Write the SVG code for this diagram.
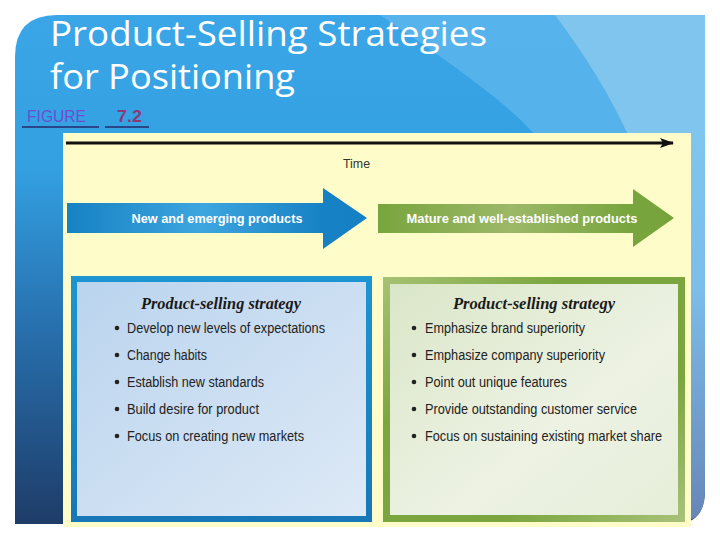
<svg xmlns="http://www.w3.org/2000/svg" width="720" height="540" viewBox="0 0 720 540">
  <defs>
    <style>
      .title { font-family: "Open Sans", "Noto Sans", "DejaVu Sans", sans-serif; font-size: 35px; fill: #ffffff; }
      .arrowtxt { font-family: "Liberation Sans", Arial, sans-serif; font-size: 13px; font-weight: bold; fill: #ffffff; }
      .boxtitle { font-family: "Liberation Serif", "Times New Roman", serif; font-size: 17px; font-weight: bold; font-style: italic; fill: #1a1a1a; }
      .item { font-family: "Liberation Sans", Arial, sans-serif; font-size: 14px; fill: #222222; }
      .bullet { fill: #222222; }
      .shadow { stroke-width: 3; fill: none; }
    </style>
    <linearGradient id="panelGrad" x1="0" y1="0" x2="0" y2="1">
      <stop offset="0" stop-color="#3aa6e7"/>
      <stop offset="0.3" stop-color="#33a0e2"/>
      <stop offset="0.6" stop-color="#2872b0"/>
      <stop offset="1" stop-color="#1e3c68"/>
    </linearGradient>
    <linearGradient id="rightGrad" x1="0" y1="0" x2="0" y2="1">
      <stop offset="0" stop-color="#80c5ee"/>
      <stop offset="0.4" stop-color="#7cbde9"/>
      <stop offset="1" stop-color="#6786b8"/>
    </linearGradient>
    <linearGradient id="blueArrow" x1="0" y1="0" x2="1" y2="0">
      <stop offset="0" stop-color="#1681c4"/>
      <stop offset="0.45" stop-color="#3ea6df"/>
      <stop offset="0.85" stop-color="#1681c4"/>
      <stop offset="1" stop-color="#1580c3"/>
    </linearGradient>
    <linearGradient id="greenArrow" x1="0" y1="0" x2="1" y2="0">
      <stop offset="0" stop-color="#78a53d"/>
      <stop offset="0.45" stop-color="#9cb868"/>
      <stop offset="0.85" stop-color="#78a53d"/>
      <stop offset="1" stop-color="#76a33b"/>
    </linearGradient>
    <linearGradient id="greyLine" x1="0" y1="0" x2="1" y2="0">
      <stop offset="0" stop-color="#9a9a9a"/>
      <stop offset="1" stop-color="#d6d6cc"/>
    </linearGradient>
    <linearGradient id="blueBorder" x1="0" y1="0" x2="0" y2="1">
      <stop offset="0" stop-color="#1d95d1"/>
      <stop offset="1" stop-color="#1877b6"/>
    </linearGradient>
    <linearGradient id="blueFill" x1="0" y1="0" x2="1" y2="1">
      <stop offset="0" stop-color="#bad4ee"/>
      <stop offset="1" stop-color="#dde9f6"/>
    </linearGradient>
    <linearGradient id="greenBorder" x1="0" y1="0" x2="1" y2="1">
      <stop offset="0" stop-color="#a6c274"/>
      <stop offset="0.3" stop-color="#7ba63f"/>
      <stop offset="0.7" stop-color="#7ba63f"/>
      <stop offset="1" stop-color="#a8c27a"/>
    </linearGradient>
    <linearGradient id="greenFill" x1="0" y1="0" x2="1" y2="1">
      <stop offset="0" stop-color="#dae6c8"/>
      <stop offset="0.6" stop-color="#edf2e3"/>
      <stop offset="1" stop-color="#e6eed9"/>
    </linearGradient>
    <marker id="timeHead" viewBox="0 0 14 10" refX="13" refY="5" markerWidth="14" markerHeight="10" markerUnits="userSpaceOnUse" orient="auto">
      <path d="M0,0 L14,5 L0,10 L3,5 Z" fill="#111111"/>
    </marker>
  </defs>

  <rect x="0" y="0" width="720" height="540" fill="#ffffff"/>

  <!-- background panel -->
  <g id="background">
    <path d="M15,57 Q15,15 57,15 H705 V490 Q705,524 675,524 H15 Z" fill="url(#panelGrad)"/>
    <path d="M380,15 C430,50 500,95 535,135 L705,135 V15 Z" fill="#5cb5ec" opacity="0.85"/>
    <path d="M555,15 C585,55 610,95 628,135 L690,330 L705,330 V15 Z" fill="#80c5ee"/>
    <path d="M690,133 H705 V490 Q705,515 690,520 Z" fill="url(#rightGrad)"/>
  </g>

  <g id="title">
    <text class="title" x="50" y="46" textLength="437" lengthAdjust="spacingAndGlyphs">Product-Selling Strategies</text>
    <text class="title" x="50" y="89" textLength="245" lengthAdjust="spacingAndGlyphs">for Positioning</text>
  </g>

  <g id="figure-label">
    <text x="27" y="122" font-family="Liberation Sans, Arial, sans-serif" font-size="16" fill="#6a4fd0" textLength="59" lengthAdjust="spacingAndGlyphs">FIGURE</text>
    <line x1="22" y1="127" x2="99" y2="127" stroke="#26286a" stroke-width="1.3"/>
    <text x="117" y="122" font-family="Liberation Sans, Arial, sans-serif" font-size="16" font-weight="bold" fill="#8b3a78" textLength="25" lengthAdjust="spacingAndGlyphs">7.2</text>
    <line x1="105" y1="127" x2="149" y2="127" stroke="#26286a" stroke-width="1.3"/>
  </g>

  <!-- figure area -->
  <rect id="figure-bg" x="63" y="133" width="628" height="394" fill="#fefdc9"/>

  <g id="connectors">
    <line x1="66" y1="143" x2="673" y2="143" stroke="#111111" stroke-width="3" marker-end="url(#timeHead)"/>
  </g>

  <g id="time-label">
    <text x="343" y="168" font-family="Liberation Sans, Arial, sans-serif" font-size="13" fill="#333333" textLength="27" lengthAdjust="spacingAndGlyphs">Time</text>
  </g>

  <g id="arrow-new">
    <line class="shadow" x1="73" y1="200" x2="330" y2="200" stroke="url(#greyLine)"/>
    <path d="M67,203 H323 V188 L367,218 L323,249 V233 H67 Z" fill="url(#blueArrow)"/>
    <text class="arrowtxt" x="217" y="223" text-anchor="middle" textLength="171" lengthAdjust="spacingAndGlyphs">New and emerging products</text>
    <line class="shadow" x1="78" y1="270" x2="330" y2="270" stroke="url(#greyLine)"/>
  </g>

  <g id="arrow-mature">
    <line class="shadow" x1="385" y1="200" x2="633" y2="200" stroke="url(#greyLine)"/>
    <path d="M378,204 H633 V189 L674,218 L633,247 V233 H378 Z" fill="url(#greenArrow)"/>
    <text class="arrowtxt" x="522" y="223" text-anchor="middle" textLength="231" lengthAdjust="spacingAndGlyphs">Mature and well-established products</text>
    <line class="shadow" x1="392" y1="270" x2="658" y2="270" stroke="url(#greyLine)"/>
  </g>

  <g id="box-new">
    <rect x="71" y="276" width="301" height="246" fill="url(#blueBorder)"/>
    <rect x="77" y="282" width="289" height="234" fill="url(#blueFill)"/>
    <text class="boxtitle" x="221" y="309" text-anchor="middle" textLength="160" lengthAdjust="spacingAndGlyphs">Product-selling strategy</text>
    <circle class="bullet" cx="117" cy="328" r="2.3"/>
    <text class="item" x="127" y="333" textLength="198" lengthAdjust="spacingAndGlyphs">Develop new levels of expectations</text>
    <circle class="bullet" cx="117" cy="355" r="2.3"/>
    <text class="item" x="127" y="360" textLength="80" lengthAdjust="spacingAndGlyphs">Change habits</text>
    <circle class="bullet" cx="117" cy="382" r="2.3"/>
    <text class="item" x="127" y="387" textLength="137" lengthAdjust="spacingAndGlyphs">Establish new standards</text>
    <circle class="bullet" cx="117" cy="409" r="2.3"/>
    <text class="item" x="127" y="414" textLength="132" lengthAdjust="spacingAndGlyphs">Build desire for product</text>
    <circle class="bullet" cx="117" cy="436" r="2.3"/>
    <text class="item" x="127" y="441" textLength="177" lengthAdjust="spacingAndGlyphs">Focus on creating new markets</text>
  </g>

  <g id="box-mature">
    <rect x="383" y="277" width="302" height="245" fill="url(#greenBorder)"/>
    <rect x="390" y="284" width="288" height="231" fill="url(#greenFill)"/>
    <text class="boxtitle" x="534" y="309" text-anchor="middle" textLength="162" lengthAdjust="spacingAndGlyphs">Product-selling strategy</text>
    <circle class="bullet" cx="414" cy="328" r="2.3"/>
    <text class="item" x="425" y="333" textLength="160" lengthAdjust="spacingAndGlyphs">Emphasize brand superiority</text>
    <circle class="bullet" cx="414" cy="355" r="2.3"/>
    <text class="item" x="425" y="360" textLength="180" lengthAdjust="spacingAndGlyphs">Emphasize company superiority</text>
    <circle class="bullet" cx="414" cy="382" r="2.3"/>
    <text class="item" x="425" y="387" textLength="142" lengthAdjust="spacingAndGlyphs">Point out unique features</text>
    <circle class="bullet" cx="414" cy="409" r="2.3"/>
    <text class="item" x="425" y="414" textLength="212" lengthAdjust="spacingAndGlyphs">Provide outstanding customer service</text>
    <circle class="bullet" cx="414" cy="436" r="2.3"/>
    <text class="item" x="425" y="441" textLength="237" lengthAdjust="spacingAndGlyphs">Focus on sustaining existing market share</text>
  </g>
</svg>
